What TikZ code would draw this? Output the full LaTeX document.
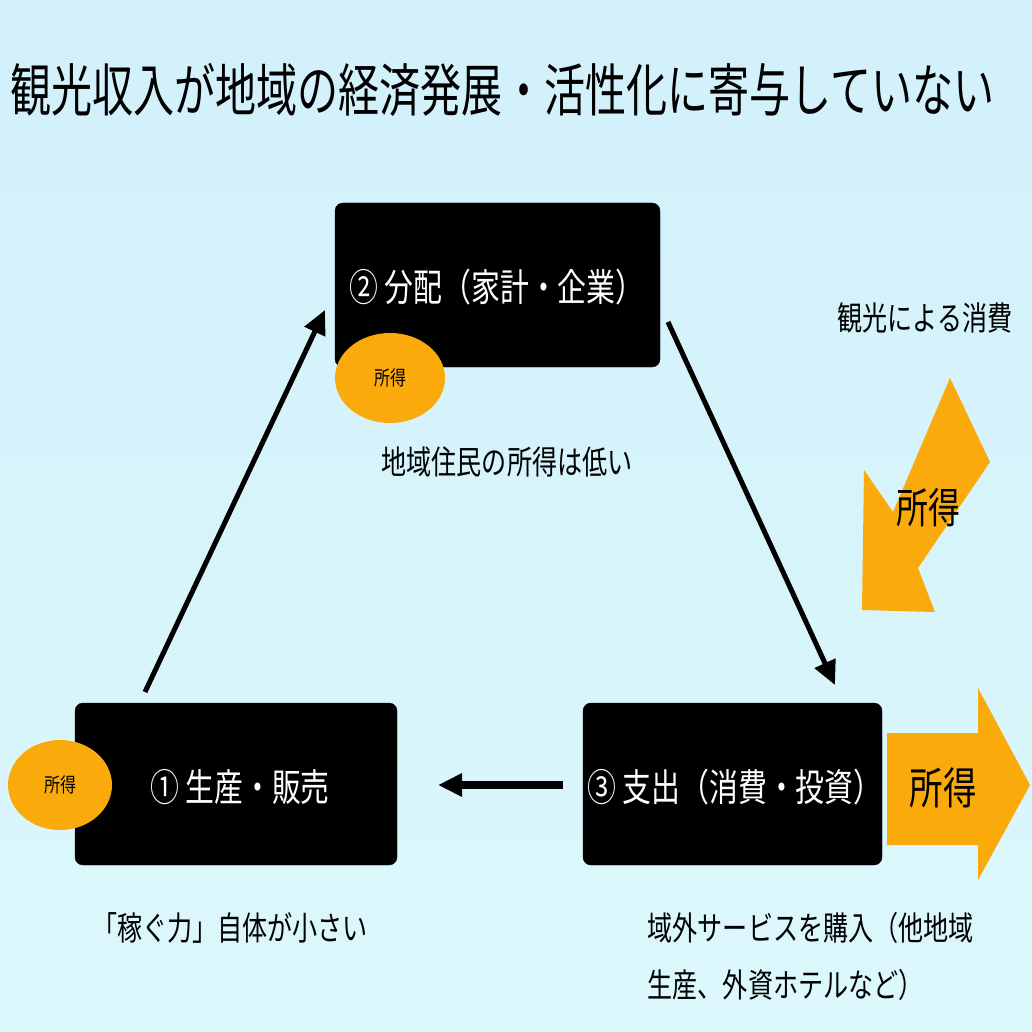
\documentclass[tikz,border=0pt]{standalone}
\usepackage{fontspec}
\setmainfont{Noto Sans CJK JP}
\usetikzlibrary{arrows.meta,shapes.geometric}
\begin{document}
\begin{tikzpicture}[x=1pt,y=-1pt,
 box/.style={fill=black,rounded corners=8pt},
 bt/.style={text=white,font=\fontsize{38}{38}\selectfont,xscale=0.76},
 lbl/.style={font=\fontsize{33}{33}\selectfont,xscale=0.76},
 arr/.style={line width=5pt,-{Triangle[length=24pt,width=22pt]}}]
\shade[top color={rgb,255:red,210;green,240;blue,250},bottom color={rgb,255:red,220;green,248;blue,252}] (0,0) rectangle (1032,1032);
\useasboundingbox (0,0) rectangle (1032,1032);
\definecolor{org}{RGB}{250,170,10}
\node[font=\fontsize{57}{57}\selectfont,xscale=0.72,anchor=west] (title) at (8,90) {観光収入が地域の経済発展・活性化に寄与していない};
\draw[box] (335,203) rectangle (660,367);
\node[bt] (b2) at (497,287) {② 分配（家計・企業）};
\node[ellipse,fill=org,minimum width=110pt,minimum height=90pt] (e2) at (390,378) {};
\node[font=\fontsize{20}{20}\selectfont,xscale=0.8] at (e2) {所得};
\node[lbl] (t2) at (507,462) {地域住民の所得は低い};
\draw[box] (75,703) rectangle (397,865);
\node[bt] (b1) at (240,787) {① 生産・販売};
\node[ellipse,fill=org,minimum width=104pt,minimum height=90pt] (e1) at (60,785) {};
\node[font=\fontsize{20}{20}\selectfont,xscale=0.8] at (e1) {所得};
\node[lbl] (t1) at (230,928) {「稼ぐ力」自体が小さい};
\draw[box] (583,703) rectangle (882,865);
\node[bt] (b3) at (735,787) {③ 支出（消費・投資）};
\node[lbl,anchor=west] (t3a) at (645,928) {域外サービスを購入（他地域};
\node[lbl,anchor=west] (t3b) at (645,985) {生産、外資ホテルなど）};
\coordinate (a1s) at (145,692); \coordinate (a1e) at (325,310);
\coordinate (a2s) at (668,322); \coordinate (a2e) at (835,685);
\coordinate (a3s) at (563,785); \coordinate (a3e) at (438,785);
\draw[arr] (a1s) -- (a1e);
\draw[arr] (a2s) -- (a2e);
\draw[arr,line width=8pt] (a3s) -- (a3e);
\node[lbl] (t4) at (925,318) {観光による消費};
\fill[org] (950,378) -- (990,462) -- (918,568) -- (935,612) -- (862,610) -- (864,470) -- (893,512) -- cycle;
\node[font=\fontsize{42}{42}\selectfont,xscale=0.76] (s1) at (928,508) {所得};
\fill[org] (887,733) -- (978,733) -- (978,688) -- (1030,785) -- (978,880) -- (978,845) -- (887,845) -- cycle;
\node[font=\fontsize{44}{44}\selectfont,xscale=0.76] (s2) at (943,788) {所得};
\end{tikzpicture}
\end{document}
